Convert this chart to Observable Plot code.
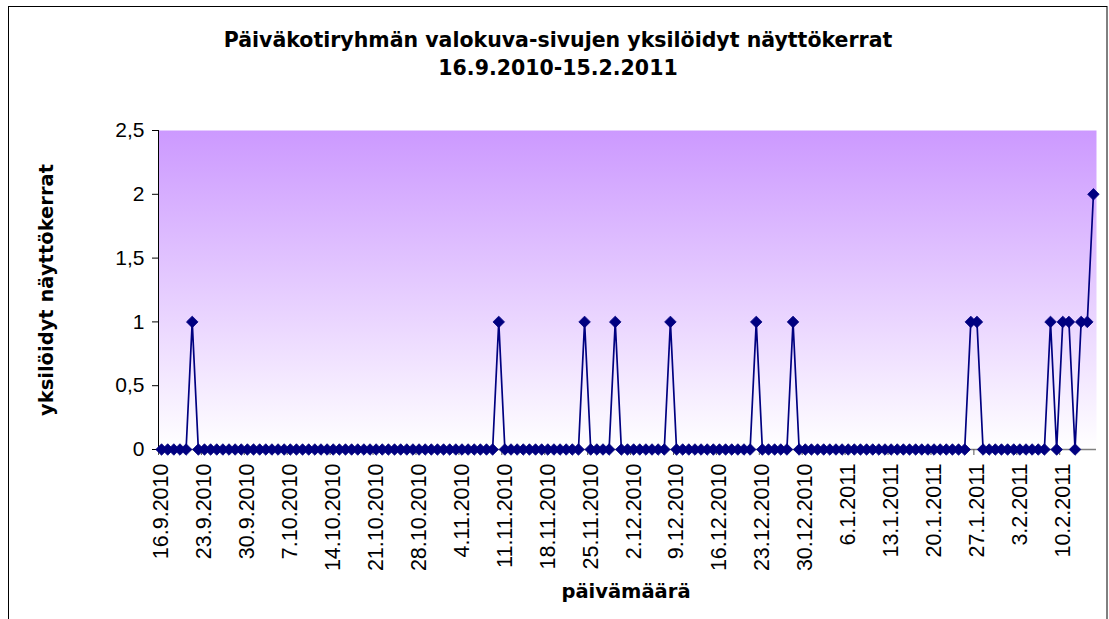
<!DOCTYPE html>
<html>
<head>
<meta charset="utf-8">
<script src="https://cdn.jsdelivr.net/npm/d3@7"></script>
<script src="https://cdn.jsdelivr.net/npm/@observablehq/plot@0.6"></script>
<style>
  html, body { margin: 0; padding: 0; background: #fff; }
  #chart svg { display: block; }
</style>
</head>
<body>
<div id="chart"></div>
<script>
// ---- data ----
const startDate = "2010-09-16";
const endDate = "2011-02-15";
// daily unique page views, 16.9.2010 - 15.2.2011 (one row = one week)
const values = [
  0,0,0,0,0,1,0,
  0,0,0,0,0,0,0,
  0,0,0,0,0,0,0,
  0,0,0,0,0,0,0,
  0,0,0,0,0,0,0,
  0,0,0,0,0,0,0,
  0,0,0,0,0,0,0,
  0,0,0,0,0,0,1,
  0,0,0,0,0,0,0,
  0,0,0,0,0,0,1,
  0,0,0,0,1,0,0,
  0,0,0,0,0,0,1,
  0,0,0,0,0,0,0,
  0,0,0,0,0,0,1,
  0,0,0,0,0,1,0,
  0,0,0,0,0,0,0,
  0,0,0,0,0,0,0,
  0,0,0,0,0,0,0,
  0,0,0,0,0,0,1,
  1,0,0,0,0,0,0,
  0,0,0,0,0,1,0,
  1,1,0,1,1,2
];
const tickLabels = [
  "16.9.2010","23.9.2010","30.9.2010","7.10.2010","14.10.2010","21.10.2010",
  "28.10.2010","4.11.2010","11.11.2010","18.11.2010","25.11.2010","2.12.2010",
  "9.12.2010","16.12.2010","23.12.2010","30.12.2010","6.1.2011","13.1.2011",
  "20.1.2011","27.1.2011","3.2.2011","10.2.2011"
];
const yTicks = [0, 0.5, 1, 1.5, 2, 2.5];
const titleLines = ["Päiväkotiryhmän valokuva-sivujen yksilöidyt näyttökerrat", "16.9.2010-15.2.2011"];
const xTitle = "päivämäärä";
const yTitle = "yksilöidyt näyttökerrat";

// ---- build ----
const HALF = 12 * 3600 * 1000;
const parseFi = s => { const [d, m, y] = s.split(".").map(Number); return new Date(Date.UTC(y, m - 1, d)); };
const dates = d3.utcDay.range(new Date(startDate + "T00:00Z"), d3.utcDay.offset(new Date(endDate + "T00:00Z"), 1));
const data = dates.map((date, i) => ({date, value: values[i]}));
const tickDates = tickLabels.map(parseFi);
const boundaryDates = tickDates.map(d => new Date(+d - HALF));

const W = 1109, H = 619;
const boldFont = "'DejaVu Sans', Verdana, sans-serif";
const tickFont = "'Liberation Sans', Arial, sans-serif";

const defs = () => {
  const g = d3.create("svg:defs");
  const lg = g.append("linearGradient").attr("id", "bg").attr("x1", 0).attr("y1", 0).attr("x2", 0).attr("y2", 1);
  lg.append("stop").attr("offset", "0%").attr("stop-color", "#CC99FF");
  lg.append("stop").attr("offset", "100%").attr("stop-color", "#FFFFFF");
  return g.node();
};

const chart = Plot.plot({
  width: W,
  height: H,
  marginLeft: 158,
  marginRight: 13,
  marginTop: 130,
  marginBottom: 170,
  style: {background: "#fff", overflow: "visible"},
  x: {type: "utc", domain: [new Date(+dates[0] - HALF), new Date(+dates[dates.length - 1] + HALF)], axis: null},
  y: {domain: [0, 2.5], axis: null},
  marks: [
    defs,
    Plot.frame({fill: "url(#bg)", stroke: "none"}),
    // y axis
    Plot.axisY({ticks: yTicks, tickFormat: d => String(d).replace(".", ","), tickSize: 6, tickPadding: 8,
      label: null, fontSize: 21, fontFamily: tickFont, fill: "#000", stroke: "#000", strokeWidth: 1}),
    Plot.ruleX([dates[0]], {x: () => new Date(+dates[0] - HALF), stroke: "#000", strokeWidth: 1}),
    // x axis baseline & ticks
    Plot.ruleY([0], {stroke: "#808080", strokeWidth: 1.5}),
    Plot.axisX(boundaryDates, {tickSize: 6, text: null, label: null, stroke: "#555", strokeWidth: 1}),
    Plot.text(tickDates, {x: d => d, y: 0, text: (d, i) => tickLabels[i], rotate: -90, textAnchor: "end",
      dy: 14, fontSize: 21.5, fontFamily: tickFont, fill: "#000"}),
    // series
    Plot.line(data, {x: "date", y: "value", stroke: "#000080", strokeWidth: 1.7}),
    Plot.dot(data, {x: "date", y: "value", symbol: "diamond2", r: 5.2, fill: "#000080", stroke: "#000080", strokeWidth: 0.8})
  ]
});

const svg = d3.select(chart);
// outer chart-area border
svg.append("rect").attr("x", 8.5).attr("y", 6.5).attr("width", 1098.5).attr("height", 630)
  .attr("fill", "none").attr("stroke", "#000").attr("stroke-width", 1);
// titles
svg.append("text").attr("x", 558).attr("y", 47).attr("text-anchor", "middle")
  .attr("font-family", boldFont).attr("font-weight", "bold").attr("font-size", 20.5).text(titleLines[0]);
svg.append("text").attr("x", 558).attr("y", 75).attr("text-anchor", "middle")
  .attr("font-family", boldFont).attr("font-weight", "bold").attr("font-size", 20.5).text(titleLines[1]);
svg.append("text").attr("x", 626).attr("y", 598).attr("text-anchor", "middle")
  .attr("font-family", boldFont).attr("font-weight", "bold").attr("font-size", 19.5).text(xTitle);
svg.append("text").attr("transform", "translate(53,290) rotate(-90)").attr("text-anchor", "middle")
  .attr("font-family", boldFont).attr("font-weight", "bold").attr("font-size", 19.5).text(yTitle);

document.getElementById("chart").appendChild(chart);
</script>
</body>
</html>
